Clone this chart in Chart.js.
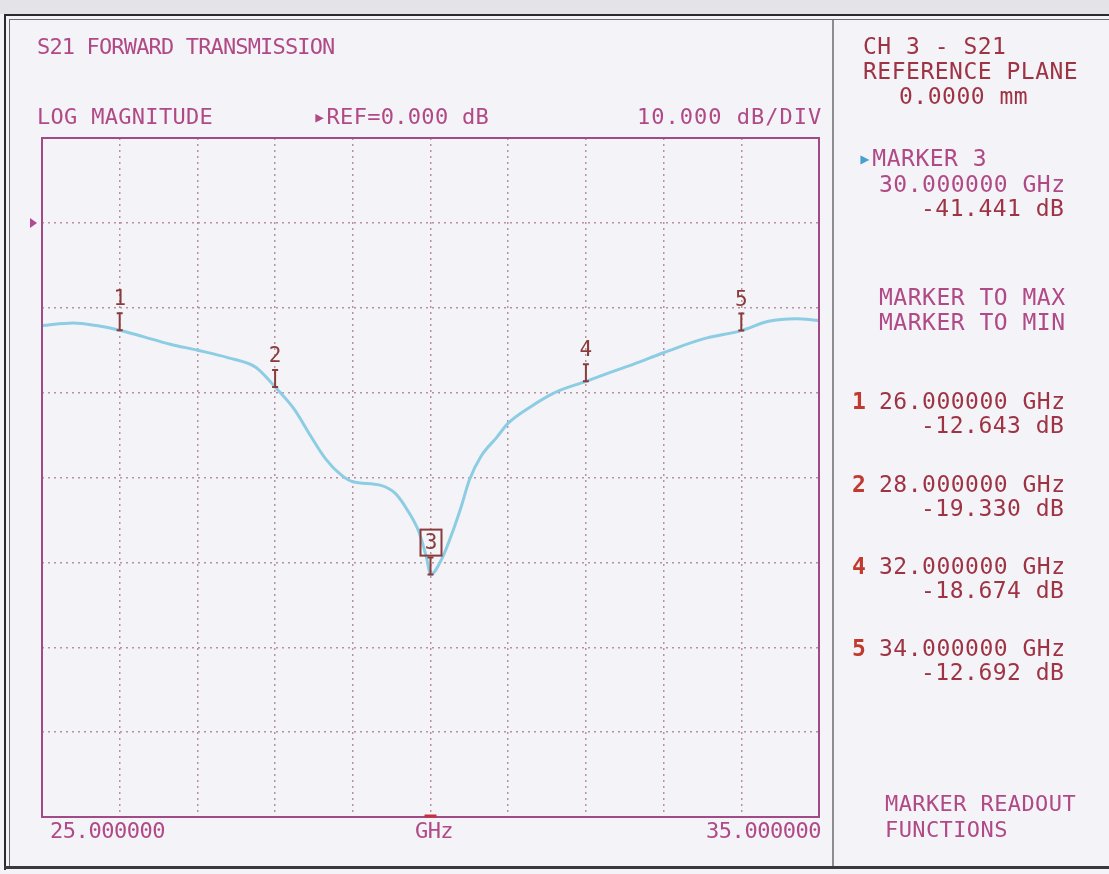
<!DOCTYPE html>
<html>
<head>
<meta charset="utf-8">
<script src="https://cdn.jsdelivr.net/npm/chart.js@4.4.1/dist/chart.umd.min.js"></script>
<style>
  html, body { margin: 0; padding: 0; }
  body { width: 1109px; height: 874px; position: relative; overflow: hidden; background: #f4f3f8; font-family: "DejaVu Sans Mono", monospace; }
  #chart { position: absolute; left: 0; top: 0; }
  .t { position: absolute; white-space: pre; font-size: 22px; line-height: 22px; color: #b04a86; }
  .p { font-size: 23px; line-height: 23px; letter-spacing: 0.5px; }
  .r { color: #9e3344; }
  .n { color: #c23a2e; font-weight: bold; }
  .line { position: absolute; background: #2b2b2e; }
</style>
</head>
<body>
<div style="position:absolute;left:0;top:0;width:1109px;height:14px;background:#e4e3e8"></div>
<div class="line" style="left:4px;top:14px;width:1105px;height:2px"></div>
<div class="line" style="left:9px;top:19px;width:1100px;height:1px;background:#6a6a70"></div>
<div class="line" style="left:4px;top:14px;width:2px;height:856px"></div>
<div class="line" style="left:9px;top:19px;width:1px;height:848px;background:#6a6a70"></div>
<div class="line" style="left:4px;top:866px;width:1105px;height:3px;background:#3a3a3e"></div>
<div class="line" style="left:832px;top:20px;width:2px;height:846px;background:#8c8c92"></div>

<canvas id="chart" width="1109" height="874"></canvas>

<div class="t" style="left:37px;top:36px;letter-spacing:-0.85px">S21 FORWARD TRANSMISSION</div>
<div class="t" style="left:37px;top:106px;letter-spacing:0.3px">LOG MAGNITUDE</div>
<div class="t" style="left:313px;top:106px;letter-spacing:0.3px">▸REF=0.000 dB</div>
<div class="t" style="left:637px;top:106px;letter-spacing:1px">10.000 dB/DIV</div>
<div class="t" style="left:50px;top:820px;letter-spacing:-0.45px">25.000000</div>
<div class="t" style="left:415px;top:820px;letter-spacing:-0.6px">GHz</div>
<div class="t" style="left:706px;top:820px;letter-spacing:-0.45px">35.000000</div>

<div class="t r p" style="left:863px;top:35px">CH 3 - S21</div>
<div class="t r p" style="left:863px;top:60px">REFERENCE PLANE</div>
<div class="t r p" style="left:899px;top:85px">0.0000 mm</div>
<div class="t p" style="left:858px;top:147px"><span style="color:#4a9ed0">▸</span>MARKER 3</div>
<div class="t p" style="left:879px;top:173px">30.000000 GHz</div>
<div class="t r p" style="left:921px;top:197px">-41.441 dB</div>
<div class="t p" style="left:879px;top:286px">MARKER TO MAX</div>
<div class="t p" style="left:879px;top:311px">MARKER TO MIN</div>
<div class="t n p" style="left:852px;top:390px">1</div>
<div class="t r p" style="left:879px;top:390px">26.000000 GHz</div>
<div class="t r p" style="left:921px;top:414px">-12.643 dB</div>
<div class="t n p" style="left:852px;top:473px">2</div>
<div class="t r p" style="left:879px;top:473px">28.000000 GHz</div>
<div class="t r p" style="left:921px;top:497px">-19.330 dB</div>
<div class="t n p" style="left:852px;top:555px">4</div>
<div class="t r p" style="left:879px;top:555px">32.000000 GHz</div>
<div class="t r p" style="left:921px;top:579px">-18.674 dB</div>
<div class="t n p" style="left:852px;top:637px">5</div>
<div class="t r p" style="left:879px;top:637px">34.000000 GHz</div>
<div class="t r p" style="left:921px;top:661px">-12.692 dB</div>
<div class="t" style="left:885px;top:793px;letter-spacing:0.4px">MARKER READOUT</div>
<div class="t" style="left:885px;top:819px;letter-spacing:0.4px">FUNCTIONS</div>

<script>
// S21 trace (GHz, dB)
const freqs = [25.0, 25.4, 25.7, 26.0, 26.3, 26.65, 27.0, 27.4, 27.75, 28.0, 28.25, 28.45, 28.65, 28.85, 29.0,
               29.35, 29.55, 29.7, 29.85, 29.95, 30.0, 30.15, 30.3, 30.4, 30.5, 30.65, 30.85, 31.0, 31.3,
               31.6, 32.0, 32.35, 32.6, 33.0, 33.5, 34.0, 34.35, 34.7, 35.0];
const s21 = [-12.1, -11.8, -12.1, -12.643, -13.4, -14.3, -15.0, -15.9, -17.0, -19.33, -22.0, -25.0, -27.8, -29.7, -30.5,
             -30.9, -31.9, -33.8, -36.4, -39.5, -41.441, -39.5, -36.0, -33.3, -30.3, -27.5, -25.3, -23.6, -21.6,
             -20.0, -18.674, -17.5, -16.7, -15.3, -13.7, -12.692, -11.6, -11.3, -11.5];

// markers
const markerFreqs = [26, 28, 30, 32, 34];
const markerVals = [-12.643, -19.33, -41.441, -18.674, -12.692];
const markerLabels = ['1', '2', '3', '4', '5'];
const activeMarker = 2;

// axes
const startFreq = 25, stopFreq = 35, freqStep = 1;
const refLevel = 0, dbPerDiv = 10, topDb = 10, bottomDb = -70;

const plotColor = '#a04a88';

const analyzerPlugin = {
    id: 'analyzer',
    afterDatasetsDraw(chart) {
        const ctx = chart.ctx;
        const xs = chart.scales.x, ys = chart.scales.y;
        const a = chart.chartArea;

        // plot frame
        ctx.save();
        ctx.strokeStyle = plotColor;
        ctx.lineWidth = 2;
        ctx.strokeRect(a.left, a.top, a.right - a.left, a.bottom - a.top);

        // reference level arrow
        const ry = ys.getPixelForValue(refLevel);
        ctx.fillStyle = '#b04a96';
        ctx.beginPath();
        ctx.moveTo(a.left - 12, ry - 5);
        ctx.lineTo(a.left - 5, ry);
        ctx.lineTo(a.left - 12, ry + 5);
        ctx.closePath();
        ctx.fill();

        // active marker tick on bottom edge
        const ax = xs.getPixelForValue(markerFreqs[activeMarker]);
        ctx.strokeStyle = '#c8303c';
        ctx.lineWidth = 3;
        ctx.beginPath();
        ctx.moveTo(ax - 6, a.bottom - 1);
        ctx.lineTo(ax + 6, a.bottom - 1);
        ctx.stroke();

        // marker symbols
        ctx.strokeStyle = '#8a3b3b';
        ctx.fillStyle = '#8a3b3b';
        ctx.font = '21px "DejaVu Sans Mono"';
        ctx.textAlign = 'center';
        ctx.textBaseline = 'bottom';
        markerFreqs.forEach((f, i) => {
            const px = xs.getPixelForValue(f);
            const py = ys.getPixelForValue(markerVals[i]);
            ctx.lineWidth = 2;
            ctx.beginPath();
            ctx.moveTo(px, py - 17);
            ctx.lineTo(px, py);
            ctx.moveTo(px - 3, py - 17);
            ctx.lineTo(px + 3, py - 17);
            ctx.moveTo(px - 3, py);
            ctx.lineTo(px + 3, py);
            ctx.stroke();
            if (i === activeMarker) {
                ctx.lineWidth = 2;
                ctx.strokeRect(px - 10, py - 45, 21, 26);
                ctx.fillText(markerLabels[i], px + 0.5, py - 21);
            } else {
                ctx.fillText(markerLabels[i], px, py - 20);
            }
        });
        ctx.restore();
    }
};

new Chart(document.getElementById('chart'), {
    type: 'line',
    data: {
        datasets: [{
            label: 'S21',
            data: freqs.map((f, i) => ({ x: f, y: s21[i] })),
            borderColor: '#8ccde4',
            borderWidth: 3,
            pointRadius: 0,
            cubicInterpolationMode: 'monotone',
            fill: false
        }]
    },
    options: {
        responsive: false,
        animation: false,
        devicePixelRatio: 1,
        layout: {
            padding: { left: 42, right: 290, top: 138, bottom: 57 }
        },
        plugins: {
            legend: { display: false },
            tooltip: { enabled: false }
        },
        scales: {
            x: {
                type: 'linear',
                min: startFreq,
                max: stopFreq,
                ticks: { display: false, stepSize: freqStep },
                grid: { color: '#b8909f', lineWidth: 1.5, drawTicks: false },
                border: { display: false, dash: [2, 4] },
                afterFit: s => { s.height = 0; }
            },
            y: {
                min: bottomDb,
                max: topDb,
                ticks: { display: false, stepSize: dbPerDiv },
                grid: { color: '#b8909f', lineWidth: 1.5, drawTicks: false },
                border: { display: false, dash: [2, 4] },
                afterFit: s => { s.width = 0; }
            }
        }
    },
    plugins: [analyzerPlugin]
});
</script>
</body>
</html>
